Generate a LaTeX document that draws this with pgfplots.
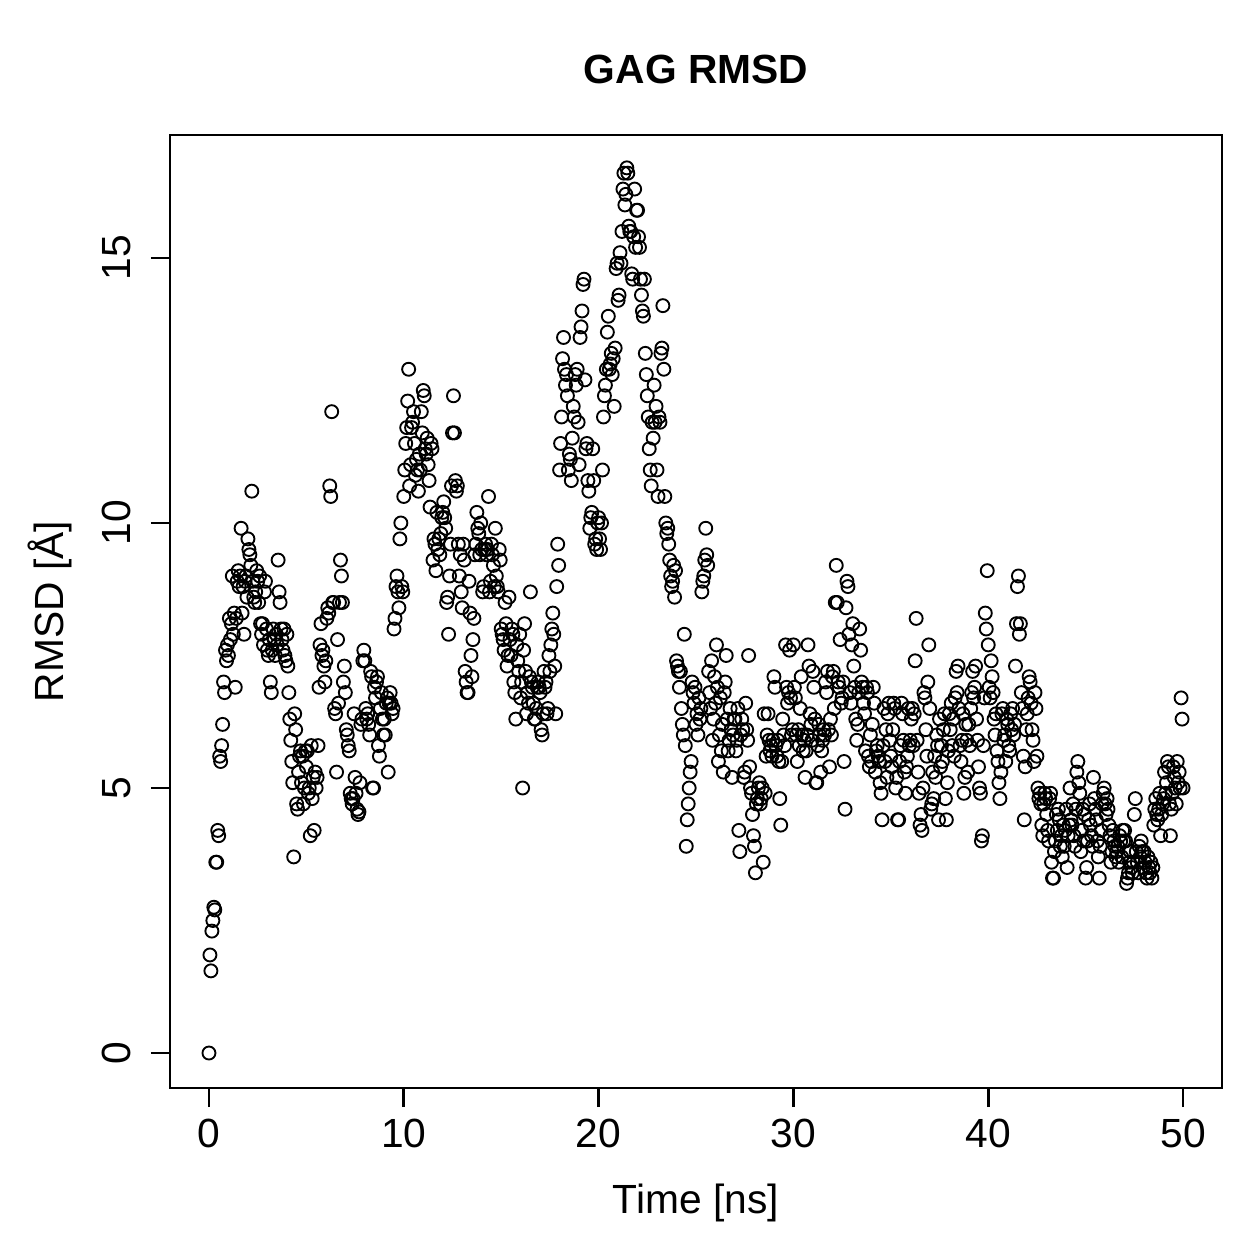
\documentclass[border=0pt]{standalone}
\usepackage{fontspec}
\setmainfont{Liberation Sans}
\usepackage{pgfplots}
\usepackage{pgfplotstable}
\pgfplotsset{compat=1.18}
\pgfplotstableread[row sep=\\, header=false]{
0\\1.85\\1.55\\2.3\\2.5\\2.75\\2.7\\3.6\\3.6\\4.2\\4.1\\5.6\\5.5\\5.8\\6.2\\7.0\\6.8\\7.6\\7.4\\7.7\\
7.5\\8.2\\7.8\\8.1\\9.0\\7.9\\8.3\\6.9\\8.2\\8.9\\9.1\\8.8\\9.0\\9.9\\8.3\\8.8\\7.9\\8.9\\9.0\\8.6\\
9.7\\9.5\\9.4\\9.2\\10.6\\8.9\\8.6\\8.5\\8.7\\9.1\\8.9\\8.5\\9.0\\8.1\\7.9\\8.1\\7.7\\8.7\\8.9\\8.0\\
7.6\\7.5\\7.8\\7.0\\6.8\\7.6\\8.0\\7.8\\7.5\\7.9\\7.7\\9.3\\8.7\\8.5\\8.0\\7.8\\7.6\\8.0\\7.5\\7.4\\
7.9\\7.3\\6.8\\6.3\\5.9\\5.5\\5.1\\3.7\\6.4\\6.1\\4.7\\4.6\\5.3\\5.6\\5.7\\5.1\\5.6\\4.7\\5.0\\5.7\\
5.4\\5.7\\4.9\\5.0\\4.1\\5.8\\4.8\\5.2\\4.2\\5.3\\5.0\\5.2\\5.8\\6.9\\7.7\\8.1\\7.5\\7.6\\7.3\\7.0\\
7.4\\8.2\\8.4\\8.3\\10.7\\10.5\\12.1\\8.5\\8.5\\6.5\\6.4\\5.3\\7.8\\6.6\\8.5\\9.3\\9.0\\8.5\\7.0\\7.3\\
6.8\\6.1\\6.0\\5.8\\5.7\\4.9\\4.8\\4.7\\4.8\\6.4\\5.2\\4.9\\4.6\\4.5\\4.55\\5.1\\6.2\\6.3\\7.4\\7.6\\
7.4\\6.5\\6.3\\6.4\\6.2\\6.0\\7.2\\7.1\\5.0\\5.0\\6.9\\6.7\\7.0\\7.1\\5.8\\5.6\\6.5\\6.8\\6.3\\6.0\\
6.3\\6.0\\6.6\\6.7\\5.3\\6.6\\6.8\\6.6\\6.4\\6.5\\8.0\\8.2\\8.8\\9.0\\8.7\\8.4\\9.7\\10.0\\8.8\\8.7\\
10.5\\11.0\\11.5\\11.8\\12.3\\12.9\\10.7\\11.1\\11.8\\11.9\\12.1\\11.5\\10.9\\11.2\\11.0\\10.6\\11.3\\11.0\\12.1\\11.7\\
12.5\\12.4\\11.4\\11.3\\11.6\\11.1\\10.8\\10.3\\11.5\\11.4\\9.3\\9.7\\9.6\\9.1\\10.2\\9.5\\9.7\\9.4\\9.8\\10.1\\
10.2\\10.4\\10.1\\9.9\\8.5\\8.6\\7.9\\9.0\\9.6\\10.7\\11.7\\12.4\\11.7\\10.8\\10.6\\10.7\\9.6\\9.0\\9.4\\8.7\\
8.4\\9.6\\9.3\\7.2\\7.0\\6.8\\6.8\\8.9\\8.3\\7.5\\7.1\\7.8\\8.2\\9.4\\9.6\\10.2\\9.9\\9.8\\9.4\\10.0\\
9.5\\8.7\\8.8\\9.5\\9.6\\9.4\\9.5\\10.5\\8.7\\8.9\\9.6\\9.4\\9.2\\8.8\\9.9\\9.0\\8.8\\8.7\\9.5\\9.3\\
8.0\\7.9\\7.8\\7.6\\8.5\\8.1\\7.3\\7.5\\8.6\\7.8\\7.5\\8.0\\7.9\\7.0\\6.8\\6.3\\7.7\\7.4\\7.2\\7.9\\
6.7\\7.0\\5.0\\7.6\\8.1\\7.2\\6.4\\6.8\\6.6\\7.1\\8.7\\7.0\\6.9\\6.6\\6.3\\6.3\\6.5\\6.9\\7.0\\6.9\\
6.8\\6.1\\6.0\\6.4\\7.2\\6.9\\7.0\\6.4\\6.5\\7.5\\7.2\\7.7\\8.0\\8.3\\7.9\\7.3\\6.4\\8.8\\9.6\\9.2\\
11.0\\11.5\\12.0\\13.1\\13.5\\12.9\\12.6\\12.8\\12.4\\11.0\\11.3\\11.2\\10.8\\11.6\\12.2\\12.0\\12.8\\12.6\\12.9\\11.9\\
11.1\\13.5\\13.7\\14.0\\14.5\\14.6\\12.7\\11.4\\11.5\\10.8\\10.6\\9.9\\10.1\\10.2\\11.4\\10.8\\9.6\\9.7\\9.5\\10.0\\
10.1\\9.7\\9.5\\10.0\\11.0\\12.0\\12.4\\12.6\\12.9\\13.6\\13.9\\12.9\\13.0\\13.2\\12.8\\13.1\\12.2\\13.3\\14.8\\14.9\\
14.2\\14.3\\15.1\\14.9\\15.5\\16.3\\16.6\\16.0\\16.2\\16.7\\16.6\\15.6\\15.5\\15.5\\14.7\\14.6\\15.4\\16.3\\15.2\\15.9\\
15.9\\15.4\\15.2\\14.6\\14.3\\14.0\\13.9\\14.6\\13.2\\12.8\\12.4\\12.0\\11.4\\11.0\\10.7\\11.9\\11.6\\12.6\\11.9\\12.2\\
11.0\\10.5\\12.0\\11.9\\13.2\\13.3\\14.1\\12.9\\10.5\\10.0\\9.8\\9.9\\9.6\\9.3\\9.0\\8.8\\8.9\\9.2\\8.6\\9.1\\
7.4\\7.3\\7.2\\6.9\\7.2\\6.5\\6.2\\6.0\\7.9\\5.8\\3.9\\4.4\\4.7\\5.0\\5.3\\5.5\\7.0\\6.8\\6.6\\6.9\\
6.2\\6.4\\6.0\\6.7\\6.3\\6.5\\8.7\\8.9\\9.0\\9.3\\9.9\\9.4\\9.2\\7.2\\6.8\\6.5\\7.4\\5.9\\6.3\\7.1\\
6.6\\7.7\\6.9\\5.5\\6.0\\6.7\\5.7\\6.2\\5.3\\6.8\\7.0\\7.5\\6.3\\5.7\\5.9\\6.5\\6.1\\5.2\\6.0\\6.3\\
6.3\\5.7\\5.9\\6.5\\4.2\\3.8\\6.0\\6.3\\6.1\\5.2\\5.3\\6.6\\6.1\\5.9\\7.5\\5.4\\5.0\\4.9\\4.5\\4.1\\
3.9\\3.4\\4.7\\4.8\\5.0\\5.1\\4.7\\4.8\\5.0\\3.6\\6.4\\4.9\\5.6\\6.0\\6.4\\5.9\\5.7\\5.8\\5.6\\5.9\\
7.1\\6.9\\5.8\\5.6\\5.9\\5.5\\4.8\\4.3\\5.5\\6.3\\6.0\\5.8\\7.7\\6.9\\6.6\\6.8\\7.6\\6.7\\6.0\\6.1\\
7.7\\6.9\\6.7\\6.0\\5.5\\6.1\\5.8\\6.5\\7.1\\6.0\\5.7\\5.9\\5.2\\5.7\\6.0\\7.7\\7.3\\6.4\\6.2\\5.9\\
7.2\\6.9\\6.3\\5.1\\5.1\\5.8\\6.2\\6.0\\5.3\\5.7\\5.9\\6.1\\6.0\\7.0\\6.8\\7.2\\6.1\\5.4\\6.3\\6.0\\
7.1\\7.2\\6.5\\8.5\\9.2\\8.5\\7.0\\6.9\\7.8\\6.6\\6.7\\7.0\\5.5\\4.6\\8.4\\8.9\\8.8\\7.9\\6.8\\6.6\\
7.7\\8.1\\7.3\\6.9\\6.3\\5.9\\6.2\\6.8\\8.0\\7.6\\7.0\\6.9\\6.6\\6.4\\5.7\\6.9\\6.8\\5.6\\5.4\\6.0\\
5.5\\6.2\\6.9\\6.6\\5.3\\5.7\\5.8\\5.6\\5.5\\5.1\\4.9\\4.4\\5.8\\6.5\\5.5\\6.1\\5.2\\6.4\\6.6\\5.9\\
5.6\\5.4\\6.1\\6.6\\6.5\\5.0\\5.2\\4.4\\4.4\\5.5\\5.8\\6.6\\6.4\\5.9\\5.3\\4.9\\5.4\\5.6\\6.5\\5.8\\
5.9\\6.3\\6.5\\5.8\\6.4\\7.4\\8.2\\5.9\\5.3\\4.9\\4.3\\4.5\\4.2\\5.0\\6.8\\6.7\\6.1\\5.6\\7.0\\7.7\\
6.5\\4.6\\4.7\\5.3\\4.8\\5.6\\5.2\\6.0\\5.8\\4.4\\6.3\\5.4\\5.8\\5.5\\6.1\\6.4\\4.8\\4.4\\5.1\\5.7\\
6.4\\6.1\\6.6\\5.8\\6.3\\5.6\\6.7\\7.2\\6.8\\7.3\\6.5\\5.8\\5.5\\5.9\\6.4\\4.9\\5.2\\6.2\\5.9\\5.3\\
6.2\\5.8\\6.5\\6.8\\7.2\\6.7\\6.9\\7.3\\6.3\\5.9\\5.4\\5.0\\4.9\\4.0\\4.1\\5.8\\6.7\\8.3\\8.0\\9.1\\
7.7\\6.9\\6.7\\7.4\\7.1\\6.8\\6.3\\6.0\\6.4\\5.7\\5.5\\5.1\\4.8\\5.3\\6.4\\6.5\\5.9\\6.0\\5.5\\6.3\\
6.2\\5.8\\5.7\\6.4\\6.1\\6.5\\6.0\\6.2\\7.3\\8.1\\8.8\\9.0\\7.9\\8.1\\6.8\\6.5\\5.6\\4.4\\5.4\\6.1\\
6.4\\6.7\\7.1\\7.0\\6.6\\6.1\\5.9\\5.5\\6.8\\6.5\\5.6\\5.0\\4.8\\4.9\\4.7\\4.3\\4.1\\4.7\\4.9\\4.8\\
4.5\\4.2\\4.0\\4.8\\4.9\\3.6\\3.3\\3.3\\3.8\\4.0\\4.5\\4.2\\4.6\\4.4\\3.9\\4.1\\3.7\\4.3\\3.9\\4.2\\
4.6\\3.5\\4.1\\4.3\\5.0\\4.4\\4.3\\4.7\\4.1\\3.9\\4.6\\5.3\\5.5\\5.1\\4.9\\3.8\\4.2\\4.6\\4.0\\4.5\\
3.3\\3.5\\4.0\\4.4\\4.7\\4.3\\4.1\\3.9\\5.2\\4.8\\4.6\\4.4\\4.0\\3.7\\3.3\\3.9\\4.2\\4.7\\4.9\\5.0\\
4.7\\4.5\\4.8\\4.6\\4.3\\4.1\\3.6\\3.8\\4.2\\4.0\\3.9\\3.7\\3.8\\3.9\\3.6\\4.1\\4.0\\3.7\\4.2\\4.0\\
4.2\\4.0\\3.2\\3.3\\3.4\\3.6\\3.8\\3.5\\3.4\\3.6\\4.5\\4.8\\3.8\\3.6\\3.4\\3.9\\3.7\\4.0\\3.8\\3.5\\
3.8\\3.6\\3.4\\3.3\\3.7\\3.5\\3.4\\3.6\\3.3\\3.5\\4.3\\4.6\\4.8\\4.5\\4.4\\4.6\\4.9\\4.1\\4.5\\4.7\\
4.8\\5.3\\4.9\\5.1\\5.5\\5.4\\4.7\\4.1\\4.6\\4.9\\5.4\\5.2\\5.0\\4.7\\5.5\\5.1\\5.3\\5.0\\6.7\\6.3\\
5.0\\
}\rmsd
\begin{document}
\begin{tikzpicture}
\begin{axis}[
  scale only axis,
  width=420.8bp, height=381.2bp,
  xmin=-2, xmax=52, ymin=-0.66, ymax=17.32,
  xtick={0,10,20,30,40,50}, ytick={0,5,10,15},
  axis line style={line width=1.1bp},
  every tick/.style={line width=1.1bp, black},
  major tick length=7.6bp,
  tick align=outside,
  xtick pos=bottom, ytick pos=left,
  font=\fontsize{16.3bp}{19bp}\selectfont,
  /pgf/number format/assume math mode=true,
  x tick label style={anchor=base, inner sep=0pt},
  xticklabel shift=16bp,
  y tick label style={rotate=90, anchor=base, inner sep=0pt},
  yticklabel shift=8bp,
  xlabel={Time [ns]},
  ylabel={RMSD [Å]},
  title={\bfseries GAG RMSD},
  xlabel style={at={(axis description cs:0.5,-0.1312)}, anchor=base, inner sep=0pt},
  ylabel style={at={(axis description cs:-0.1017,0.5)}, anchor=base, inner sep=0pt, rotate=0},
  title style={at={(axis description cs:0.5,1.0388)}, anchor=base, inner sep=0pt},
  clip=false,
]
\addplot[only marks, mark=o, mark size=2.6bp, black, line width=0.75bp]
  table[x expr=\coordindex*0.05, y index=0] {\rmsd};
\end{axis}
\pgfresetboundingbox
\path[use as bounding box] ([xshift=-68bp,yshift=-68.4bp]current axis.south west) rectangle ([xshift=14.8bp,yshift=54bp]current axis.north east);
\end{tikzpicture}
\end{document}
